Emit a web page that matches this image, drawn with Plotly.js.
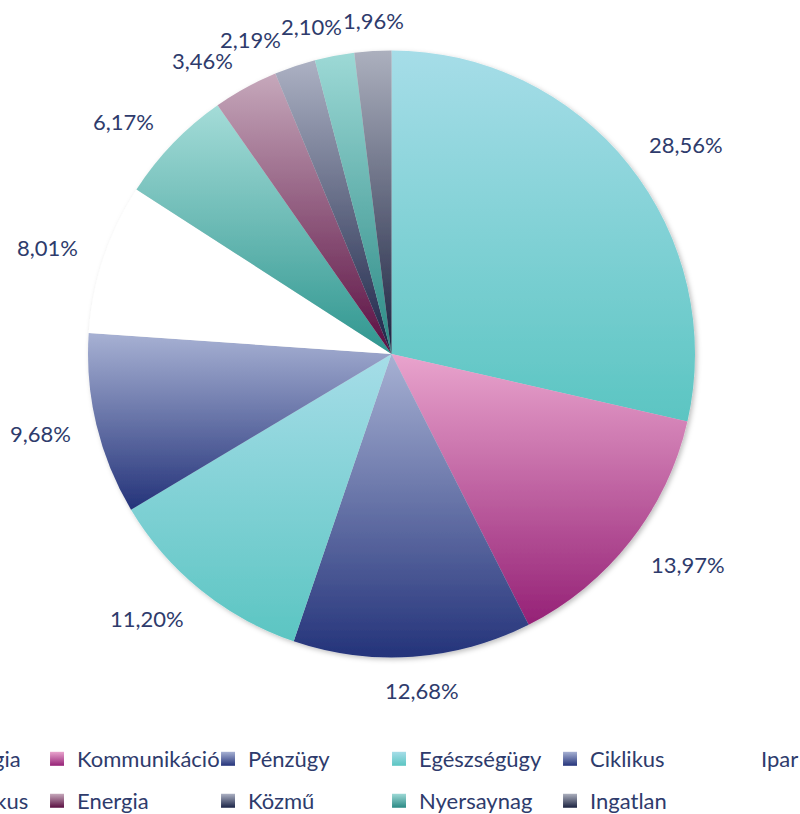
<!DOCTYPE html>
<html>
<head>
<meta charset="utf-8">
<script src="https://cdn.plot.ly/plotly-3.0.1.min.js"></script>
<style>
html,body{margin:0;padding:0;background:#fff;overflow:hidden;width:800px;height:814px;}
#chart{position:absolute;left:-160px;top:0;width:1080px;height:850px;}
</style>
</head>
<body>
<div id="chart"></div>
<script>
var labels = ["Technológia","Kommunikáció","Pénzügy","Egészségügy","Ciklikus","Ipar","Nem ciklikus","Energia","Közmű","Nyersaynag","Ingatlan"];
var values = [28.56,13.97,12.68,11.20,9.68,8.01,6.17,3.46,2.19,2.10,1.96];
var topColors = ["#A6DDE8","#E9A4CD","#A7B1D3","#A6DDE8","#A7B1D3","#FFFFFF","#A4DCD8","#C6A8BB","#ACB1C3","#9DD9D6","#ACB0BE"];
var bottomColors = ["#5BC5C2","#952176","#24337A","#5BC5C2","#24337A","#FFFFFF","#2F968F","#5A0E41","#1B2447","#2A8984","#1B2240"];
var midColors = ["#80D1D5","#CC79B0","#6A76A6","#80D1D5","#6A76A6","#FFFFFF","#6ABAB5","#915B7E","#667090","#64B2AE","#666A80"];

var textColor = "#2E3B6C";
var fontFamily = "Lato, 'Open Sans', sans-serif";
var fontSize = 22;

var W = 1080, H = 850;
var pieDomain = {x: [0.22963, 0.79167], y: [0.22647, 0.94059]};

var data = [{
  type: "pie",
  labels: labels,
  values: values,
  sort: false,
  direction: "clockwise",
  rotation: 0,
  marker: {colors: midColors, line: {width: 0}},
  textinfo: "none",
  showlegend: false,
  hoverinfo: "none",
  domain: pieDomain
}];

for (var i = 0; i < labels.length; i++) {
  data.push({
    type: "scatter",
    mode: "markers",
    x: [null], y: [null],
    name: labels[i],
    legend: i < 6 ? "legend" : "legend2",
    marker: {symbol: "square", size: 14, color: topColors[i], gradient: {type: "vertical", color: bottomColors[i]}},
    hoverinfo: "none"
  });
}

// ---- outside data labels (Excel-like "outside end"), positions derived from the values ----
var fmt = function(v) { return v.toFixed(2).replace(".", ",") + "%"; };
var ctx = document.createElement("canvas").getContext("2d");
ctx.font = fontSize + "px Lato";
var cx = (pieDomain.x[0] + pieDomain.x[1]) / 2 * W;
var cy = H - (pieDomain.y[0] + pieDomain.y[1]) / 2 * H;
var R = Math.min((pieDomain.x[1] - pieDomain.x[0]) * W, (pieDomain.y[1] - pieDomain.y[0]) * H) / 2;
var gap = 26.5, hh = 8.5;
var total = values.reduce(function(a, b) { return a + b; }, 0);
var texts = values.map(fmt);
var hws = texts.map(function(t) { return ctx.measureText(t).width / 2; });
var angles = [];
var acc = 0;
values.forEach(function(v) { angles.push((acc + v / 2) / total * 2 * Math.PI); acc += v; });
function clamp(v) { return Math.max(-1, Math.min(1, v)); }
function place(i, th) {
  var s = Math.sin(th), c = Math.cos(th);
  var d = R + gap;
  var ox = hws[i] * clamp(3 * s);
  var oy = c > 0 ? -4 * clamp(1.5 * c) : -7.5 * clamp(1.5 * c);
  return {x: cx + d * s + ox, y: cy - d * c + oy};
}
function overlap(a, b, i, j) {
  return Math.abs(a.x - b.x) < hws[i] + hws[j] && Math.abs(a.y - b.y) < 2 * hh;
}
for (var it = 0; it < 3000; it++) {
  var moved = false;
  for (var k = 0; k < values.length; k++) {
    var j = (k + 1) % values.length;
    var pa = place(k, angles[k]), pb = place(j, angles[j]);
    if (overlap(pa, pb, k, j)) {
      angles[k] -= 0.002; angles[j] += 0.002; moved = true;
    }
  }
  if (!moved) break;
}
var annotations = values.map(function(v, i) {
  var p = place(i, angles[i]);
  return {
    xref: "paper", yref: "paper",
    x: p.x / W, y: 1 - p.y / H,
    xanchor: "center", yanchor: "middle",
    text: texts[i], showarrow: false,
    font: {family: fontFamily, size: fontSize, color: textColor}
  };
});

var legendCommon = {
  orientation: "h",
  xanchor: "left",
  yanchor: "middle",
  x: 0.0241,
  entrywidth: 126,
  entrywidthmode: "pixels",
  font: {family: fontFamily, size: fontSize, color: textColor},
  bgcolor: "rgba(0,0,0,0)",
  borderwidth: 0,
  traceorder: "normal"
};

var layout = {
  width: W,
  height: H,
  margin: {l: 0, r: 0, t: 0, b: 0, autoexpand: false},
  paper_bgcolor: "#FFFFFF",
  plot_bgcolor: "#FFFFFF",
  separators: ",.",
  showlegend: true,
  xaxis: {visible: false},
  yaxis: {visible: false},
  annotations: annotations,
  legend: Object.assign({}, legendCommon, {y: 0.10706}),
  legend2: Object.assign({}, legendCommon, {y: 0.0577})
};

Plotly.newPlot("chart", data, layout, {displayModeBar: false, staticPlot: true}).then(function(gd) {
  var ns = "http://www.w3.org/2000/svg";
  var svg = gd.querySelector("svg.main-svg");
  var defs = svg.querySelector("defs");
  if (!defs) { defs = document.createElementNS(ns, "defs"); svg.insertBefore(defs, svg.firstChild); }
  var filt = document.createElementNS(ns, "filter");
  filt.setAttribute("id", "pieShadow");
  filt.setAttribute("x", "-10%"); filt.setAttribute("y", "-10%");
  filt.setAttribute("width", "120%"); filt.setAttribute("height", "120%");
  var ds = document.createElementNS(ns, "feDropShadow");
  ds.setAttribute("dx", "2"); ds.setAttribute("dy", "2");
  ds.setAttribute("stdDeviation", "2.5");
  ds.setAttribute("flood-color", "#000"); ds.setAttribute("flood-opacity", "0.25");
  filt.appendChild(ds);
  defs.appendChild(filt);
  var paths = gd.querySelectorAll("g.slice path.surface");
  paths.forEach(function(p, i) {
    var id = "sliceGrad" + i;
    var g = document.createElementNS(ns, "linearGradient");
    g.setAttribute("id", id);
    g.setAttribute("x1", "0"); g.setAttribute("y1", "0");
    g.setAttribute("x2", "0"); g.setAttribute("y2", "1");
    var s1 = document.createElementNS(ns, "stop");
    s1.setAttribute("offset", "0"); s1.setAttribute("stop-color", topColors[i]);
    var s2 = document.createElementNS(ns, "stop");
    s2.setAttribute("offset", "1"); s2.setAttribute("stop-color", bottomColors[i]);
    g.appendChild(s1); g.appendChild(s2);
    defs.appendChild(g);
    p.style.fill = "url(#" + id + ")";
  });
  var pieTrace = gd.querySelector("g.pielayer g.trace");
  if (pieTrace) pieTrace.setAttribute("filter", "url(#pieShadow)");
});
</script>
</body>
</html>
